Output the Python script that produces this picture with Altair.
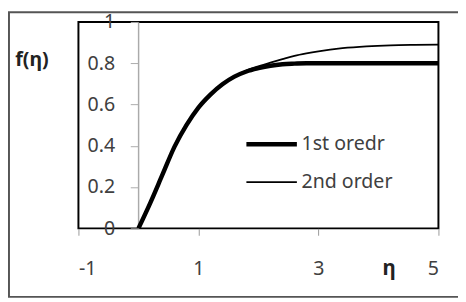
import altair as alt
import pandas as pd

eta1 = [0, 0.2, 0.4, 0.6, 0.8, 1.0, 1.2, 1.4, 1.6, 1.8, 2.0, 2.2, 2.4, 2.6, 2.8, 3.5, 4.0, 5.0]
f1 = [0, 0.125, 0.26, 0.395, 0.50, 0.585, 0.648, 0.698, 0.735, 0.76, 0.776, 0.788, 0.795, 0.798, 0.80, 0.80, 0.80, 0.80]

eta2 = [0, 0.2, 0.4, 0.6, 0.8, 1.0, 1.2, 1.4, 1.6, 1.8, 2.0, 2.2, 2.4, 2.6, 2.8, 3.0, 3.4, 3.8, 4.2, 4.6, 5.0]
f2 = [0, 0.125, 0.26, 0.395, 0.50, 0.585, 0.648, 0.698, 0.737, 0.765, 0.785, 0.803, 0.82, 0.836, 0.848, 0.858, 0.873, 0.882, 0.887, 0.889, 0.89]

series = ["1st oredr", "2nd order"]
x_ticks = [-1, 1, 3, 5]
y_ticks = [0, 0.2, 0.4, 0.6, 0.8, 1.0]

df = pd.concat([
    pd.DataFrame({"eta": eta1, "f": f1, "series": series[0]}),
    pd.DataFrame({"eta": eta2, "f": f2, "series": series[1]}),
])

W, H = 368, 211
FONT = "Noto Sans"
TXT = "#404040"
FS = 20

xs = alt.Scale(domain=[-1, 5], nice=False, zero=False)
ys = alt.Scale(domain=[0, 1], nice=False)
sw = alt.Scale(domain=series, range=[4.5, 1.8])

lines = alt.Chart(df).mark_line(color="black", interpolate="monotone", clip=True).encode(
    x=alt.X("eta:Q", scale=xs, axis=alt.Axis(
        values=x_ticks, labelExpr="'' + datum.value", domain=False, grid=False,
        tickSize=7, tickColor="#999999",
        labelFont=FONT, labelFontSize=FS, labelColor=TXT, labelPadding=34,
        labelBaseline="middle", title="η", titleFont=FONT, titleFontSize=21,
        titleFontWeight="bold", titleColor="#222222", titleX=317, titleY=41,
        titleBaseline="middle", titleAlign="center")),
    y=alt.Y("f:Q", scale=ys, axis=alt.Axis(
        values=y_ticks, format=".1~f", domain=True, domainColor="#aaaaaa",
        domainWidth=1.5, grid=False, tickSize=8, tickColor="#aaaaaa",
        labelFont=FONT, labelFontSize=FS, labelColor=TXT, labelPadding=16,
        offset=-61, title="f(η)", titleAngle=0, titleFont=FONT,
        titleFontSize=20, titleFontWeight="bold", titleColor="#222222",
        titleX=-109, titleY=38, titleAlign="center", titleBaseline="middle")),
    strokeWidth=alt.StrokeWidth("series:N", scale=sw, legend=None),
    detail="series:N",
)

leg = pd.DataFrame({"series": series, "row": [0, 1]})
leg_y = alt.Y("row:Q", scale=alt.Scale(domain=[0, 1], range=[125, 163.7]), axis=None)
leg_lines = alt.Chart(leg).mark_rule(color="black").encode(
    x=alt.value(171.7), x2=alt.value(223.3), y=leg_y,
    strokeWidth=alt.StrokeWidth("series:N", scale=sw, legend=None),
)
leg_text = alt.Chart(leg).mark_text(align="left", baseline="middle", font=FONT, fontSize=FS, color=TXT).encode(
    x=alt.value(228), y=leg_y, text="series:N",
)

frame = alt.Chart(pd.DataFrame({"a": [0]})).mark_rect(
    fill=None, stroke="#555555", strokeWidth=2, clip=False
).encode(x=alt.value(-71), x2=alt.value(W + 40), y=alt.value(-10), y2=alt.value(281))

chart = alt.layer(frame, lines, leg_lines, leg_text).resolve_scale(y="independent").properties(
    width=W, height=H,
    autosize=alt.AutoSizeParams(type="none"),
    padding={"left": 72, "top": 11, "right": 20, "bottom": 74},
).configure_view(stroke="black", strokeWidth=2)

chart.save("out.html", embed_options={"renderer": "svg", "actions": False})
